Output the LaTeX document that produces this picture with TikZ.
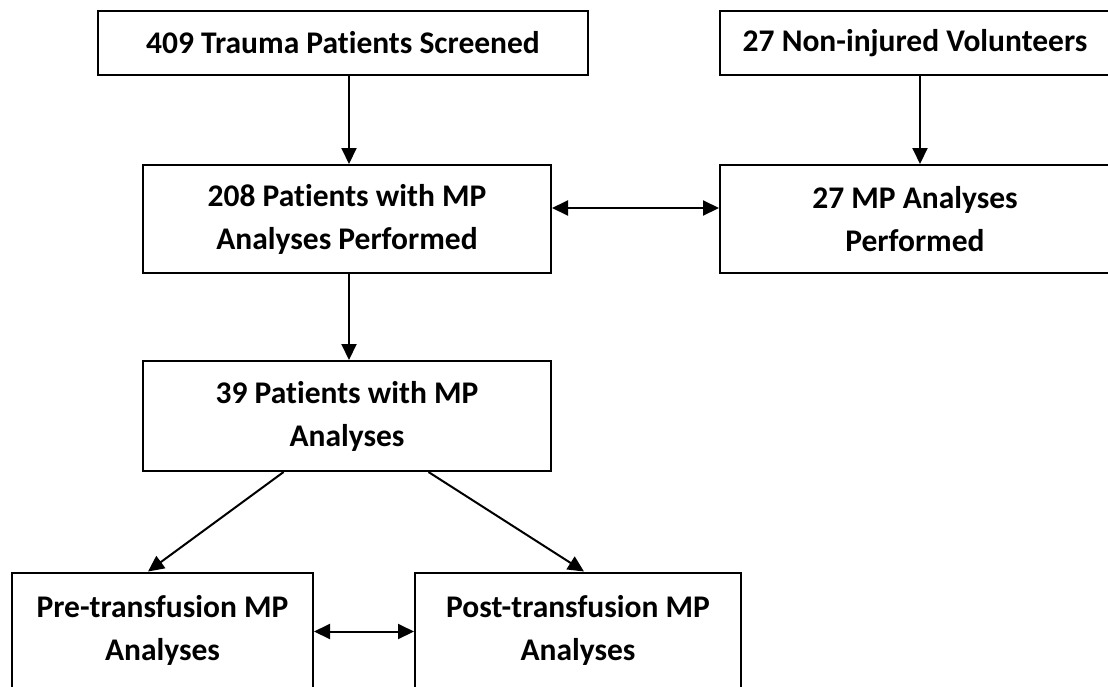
\documentclass[tikz,border=0pt]{standalone}
\usepackage{fontspec}
\setmainfont{Carlito}[Ligatures=NoCommon]
\usetikzlibrary{arrows.meta}
\begin{document}
\begin{tikzpicture}[x=1pt,y=-1pt,
  box/.style={draw,line width=2pt,inner sep=0pt,align=center,
    font=\bfseries\fontsize{31.5}{43}\selectfont},
  arr/.style={line width=2pt,-{Triangle[length=16pt,width=15pt]}},
  darr/.style={line width=2pt,{Triangle[length=16pt,width=15pt]}-{Triangle[length=16pt,width=15pt]}}]
\useasboundingbox (0,0) rectangle (1108,686);
\clip (0,0) rectangle (1108,686);
\node[box,minimum width=490pt,minimum height=64.6pt] (b1) at (343,43) {409 Trauma Patients Screened};
\node[box,minimum width=390pt,minimum height=64.6pt] (b2) at (915,43) {27 Non-injured Volunteers};
\node[box,minimum width=408pt,minimum height=108pt] (b3) at (347,219) {208 Patients with MP\\Analyses Performed};
\node[box,minimum width=390pt,minimum height=108pt] (b4) at (915,219) {27 MP Analyses\\Performed};
\node[box,minimum width=408pt,minimum height=110pt] (b5) at (347,416) {39 Patients with MP\\Analyses};
\node[box,minimum width=301pt,minimum height=115pt] (b6) at (162.5,630) {Pre-transfusion MP\\Analyses};
\node[box,minimum width=326pt,minimum height=115pt] (b7) at (578,630) {Post-transfusion MP\\Analyses};
\coordinate (xa) at (349,0);
\coordinate (xb) at (920,0);
\draw[arr] (b1.south -| xa) -- (b3.north -| xa);
\draw[arr] (b2.south -| xb) -- (b4.north -| xb);
\draw[darr] ([yshift=11pt]b3.east) -- ([yshift=11pt]b4.west);
\draw[arr] (b3.south -| xa) -- (b5.north -| xa);
\draw[arr] ([xshift=-63.4pt]b5.south) -- ([xshift=-14.5pt]b6.north);
\draw[arr] ([xshift=81.5pt]b5.south) -- ([xshift=6pt]b7.north);
\draw[darr] ([yshift=-1.5pt]b6.east) -- ([yshift=-1.5pt]b7.west);
\end{tikzpicture}
\end{document}
